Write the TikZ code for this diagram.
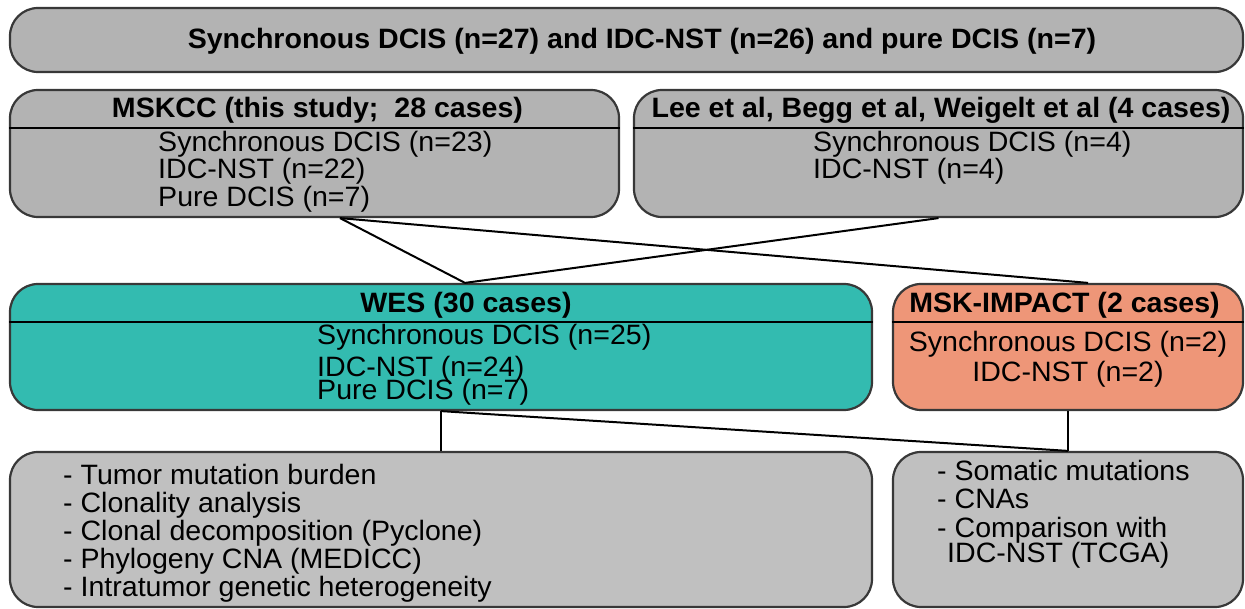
\documentclass[tikz,border=0pt]{standalone}
\usepackage{fontspec}
\setmainfont{Liberation Sans}[FakeStretch=1.02]
\usetikzlibrary{calc}

\definecolor{boxgray}{HTML}{B3B3B3}
\definecolor{lowgray}{HTML}{C0C0C0}
\definecolor{westeal}{HTML}{33BBB0}
\definecolor{impactred}{HTML}{EE9678}
\definecolor{edgegray}{HTML}{383838}

\tikzset{
    panel/.style={draw=edgegray, line width=2.2pt, rounded corners=28pt, inner sep=0pt},
    head/.style={font=\fontsize{28}{28}\selectfont\bfseries, anchor=base, inner sep=0pt},
    body/.style={font=\fontsize{28}{27.3}\selectfont, align=left, anchor=base west, inner sep=0pt},
    link/.style={line width=2pt, black},
}

\begin{document}
\begin{tikzpicture}[x=1pt, y=-1pt]
\useasboundingbox (0,0) rectangle (1245,609);

\node[panel, fill=boxgray, minimum width=1233pt, minimum height=64pt] (pool) at (626.5,40) {};
\node[panel, fill=boxgray, minimum width=609pt, minimum height=127pt] (mskcc) at (314.5,153.5) {};
\node[panel, fill=boxgray, minimum width=609pt, minimum height=127pt] (lee) at (938.5,153.5) {};
\node[panel, fill=westeal, minimum width=862pt, minimum height=126pt] (wes) at (441,347) {};
\node[panel, fill=impactred, minimum width=350pt, minimum height=126pt] (impact) at (1068,347) {};
\node[panel, fill=lowgray, minimum width=862pt, minimum height=155pt] (tasks) at (441,529.5) {};
\node[panel, fill=lowgray, minimum width=350pt, minimum height=155pt] (checks) at (1068,529.5) {};

\foreach \pname/\y in {mskcc/128, lee/128, wes/322, impact/322} {
    \draw[line width=2pt] (\pname.west |- 0,\y) -- (\pname.east |- 0,\y);
}

\node[head] (poolhead) at (642,48.5) {Synchronous DCIS (n=27) and IDC-NST (n=26) and pure DCIS (n=7)};
\node[head] (mskcchead) at (317.5,118) {MSKCC (this study;\ \ 28 cases)};
\node[head] (leehead) at (941,118) {Lee et al, Begg et al, Weigelt et al (4 cases)};
\node[head] (weshead) at (466,313) {WES (30 cases)};
\node[head] (impacthead) at (1064.5,313) {MSK-IMPACT (2 cases)};

\node[body] (mskccbody) at (158,206.3) {Synchronous DCIS (n=23)\\IDC-NST (n=22)\\Pure DCIS (n=7)};
\node[body] (leebody) at (813,179) {Synchronous DCIS (n=4)\\IDC-NST (n=4)};
\node[body] (wesbody) at (317,400) {Synchronous DCIS (n=25)\\[4.4pt]IDC-NST (n=24)\\[-4pt]Pure DCIS (n=7)};
\node[body, align=center, anchor=base] (impactbody) at (1068,382) {Synchronous DCIS (n=2)\\[2.7pt]IDC-NST (n=2)};
\node[body, font=\fontsize{28}{28}\selectfont] (tasksbody) at (63,596) {- Tumor mutation burden\\- Clonality analysis\\- Clonal decomposition (Pyclone)\\- Phylogeny CNA (MEDICC)\\- Intratumor genetic heterogeneity};
\node[body, font=\fontsize{28}{28.5}\selectfont] (checksbody) at (937,562) {- Somatic mutations\\- CNAs\\- Comparison with\\[-3.5pt]\hspace*{10pt}IDC-NST (TCGA)};

\coordinate (mskccout) at ($(mskcc.south)+(25.5,0)$);
\coordinate (wesin) at ($(wes.north)+(24,0)$);
\coordinate (impactin) at ($(impact.north)+(20,0)$);
\draw[link] (mskccout) -- (wesin);
\draw[link] (mskccout) -- (impactin);
\draw[link] (lee.south) -- (wesin);
\draw[link] (wes.south) -- (tasks.north);
\draw[link] (wes.south) -- (checks.north);
\draw[link] (impact.south) -- (checks.north);
\end{tikzpicture}
\end{document}
